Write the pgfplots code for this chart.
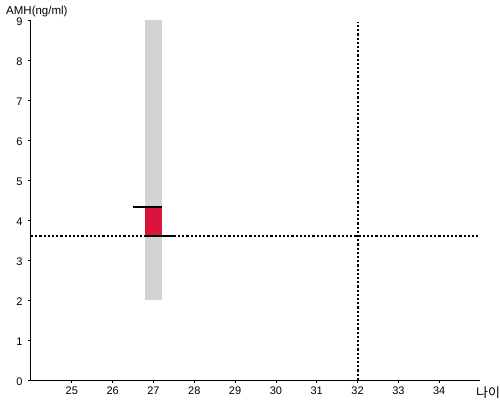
\documentclass[border=0pt]{standalone}
\usepackage{pgfplots}
\pgfplotsset{compat=1.18}
\usepackage{fontspec}
\setmainfont{Liberation Sans}
\newfontfamily\krfont{Noto Sans CJK KR}
\definecolor{barred}{HTML}{DC143C}
\definecolor{bargray}{HTML}{D3D3D3}
\begin{document}
\begin{tikzpicture}
\path[use as bounding box] (-31pt,-20pt) rectangle (469pt,380pt);
\begin{axis}[
  scale only axis,
  width=449pt, height=360pt,
  xmin=24, xmax=35, ymin=0, ymax=9,
  axis lines=left,
  axis line style={-, line width=1pt},
  xtick={25,...,34}, ytick={0,...,9},
  tick align=outside,
  major tick length=3pt,
  tick style={black, line width=0.8pt},
  tick label style={font=\fontsize{11}{12}\selectfont},
  /pgf/number format/assume math mode=true,
  xticklabel style={yshift=-0.5pt},
  yticklabel style={xshift=-2pt, yshift=-2pt},
  clip=false,
]
\addplot[fill=bargray, draw=none] coordinates {(26.8,2) (27.2,2) (27.2,9) (26.8,9)} -- cycle;
\addplot[fill=barred, draw=none] coordinates {(26.8,3.6) (27.2,3.6) (27.2,4.325) (26.8,4.325)} -- cycle;
\addplot[black, line width=2pt, dash pattern=on 2.2pt off 2pt] coordinates {(24,3.6) (35,3.6)};
\addplot[black, line width=2pt, dash pattern=on 2.2pt off 2pt] coordinates {(32,0) (32,8.95)};
\addplot[black, line width=1.8pt] coordinates {(26.5,4.325) (27.2,4.325)};
\addplot[black, line width=1.8pt] coordinates {(26.8,3.6) (27.5,3.6)};
\node[anchor=base west, font=\fontsize{11.5}{13}\selectfont, inner sep=0pt] at (rel axis cs:0,1) [xshift=-25pt, yshift=6pt] {AMH(ng/ml)};
\node[anchor=west, font=\krfont\fontsize{13}{14}\selectfont, inner sep=0pt] at (rel axis cs:1,0) [xshift=-4pt, yshift=-13pt] {나이};
\end{axis}
\end{tikzpicture}
\end{document}
